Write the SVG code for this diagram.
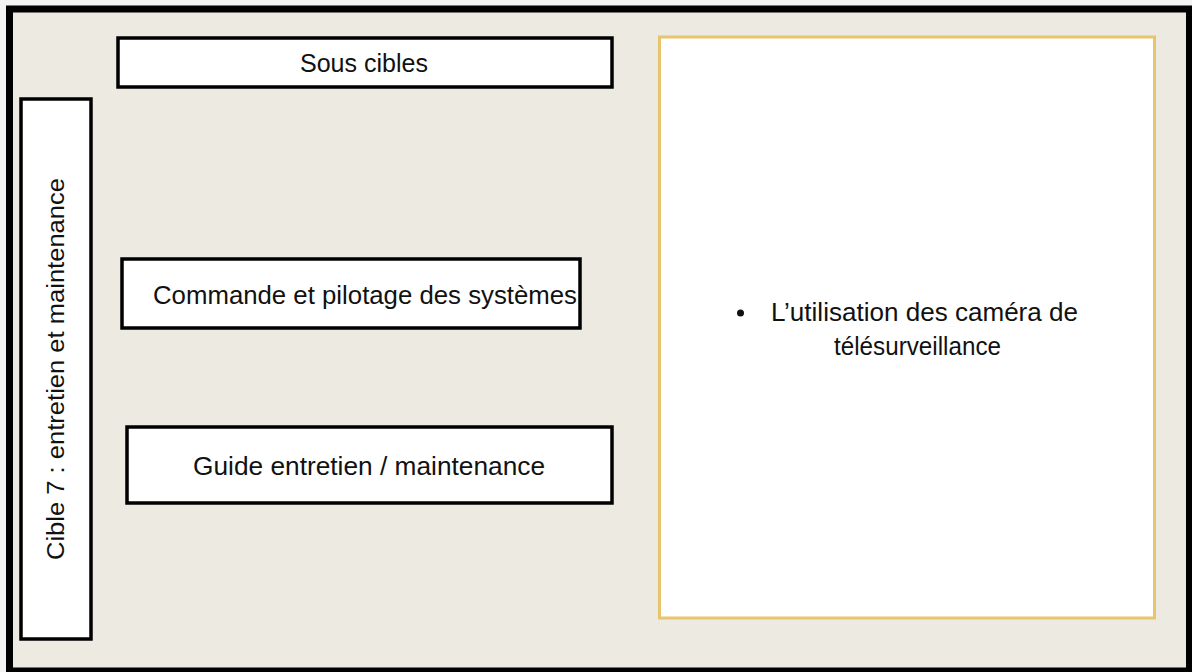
<svg xmlns="http://www.w3.org/2000/svg" width="1192" height="672" viewBox="0 0 1192 672">
<style>
.box{fill:#fff;stroke:#000;stroke-width:3.5}
.t{font-family:"Liberation Sans",Arial,sans-serif;font-size:26px;fill:#111}
</style>
<rect x="0" y="0" width="1192" height="672" fill="#f3f3f3"/>
<rect id="frame" x="9.5" y="9" width="1180" height="662" fill="#edeae2" stroke="#000" stroke-width="7"/>
<g id="sous-cibles">
<rect class="box" x="118" y="38" width="494" height="49"/>
<text class="t" x="300" y="72" textLength="128" lengthAdjust="spacingAndGlyphs">Sous cibles</text>
</g>
<g id="cible7">
<rect class="box" x="21" y="99" width="70" height="540"/>
<text class="t" style="font-size:23px" transform="translate(64,560) rotate(-90)" textLength="382" lengthAdjust="spacingAndGlyphs">Cible 7 : entretien et maintenance</text>
</g>
<g id="commande">
<rect class="box" x="122" y="259" width="458" height="69"/>
<text class="t" x="153" y="304" textLength="424" lengthAdjust="spacingAndGlyphs">Commande et pilotage des systèmes</text>
</g>
<g id="guide">
<rect class="box" x="127" y="427" width="485" height="76"/>
<text class="t" x="193" y="475" textLength="352" lengthAdjust="spacingAndGlyphs">Guide entretien / maintenance</text>
</g>
<g id="detail">
<rect x="659.5" y="37" width="495" height="581" fill="#fff" stroke="#e8c46e" stroke-width="3"/>
<circle cx="740.5" cy="313" r="3.5" fill="#111"/>
<text class="t" style="font-size:25px" x="771" y="321" textLength="307" lengthAdjust="spacingAndGlyphs">L’utilisation des caméra de</text>
<text class="t" style="font-size:25px" x="834" y="355" textLength="167" lengthAdjust="spacingAndGlyphs">télésurveillance</text>
</g>
<g id="connectors"></g>
</svg>
